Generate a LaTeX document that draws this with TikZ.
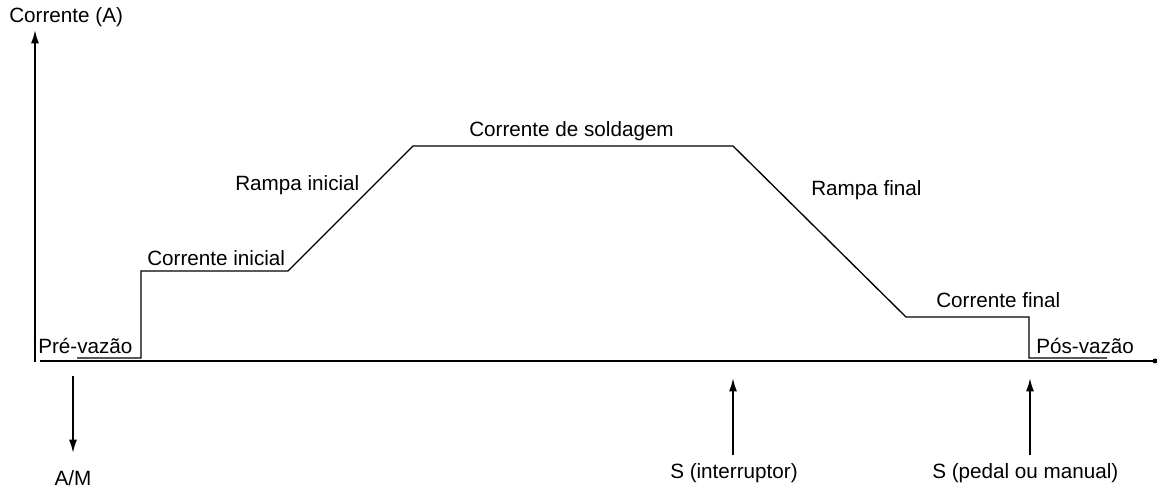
\documentclass[tikz,border=0pt]{standalone}
\usepackage{fontspec}
\setmainfont{Liberation Sans}
\usetikzlibrary{arrows.meta}
\begin{document}
\begin{tikzpicture}[x=0.75pt,y=-0.75pt,
  lbl/.style={inner sep=0pt,font=\fontsize{15.5}{18}\selectfont},
  curve/.style={line width=1pt},
  axis/.style={line width=1.4pt},
  sig/.style={line width=1.4pt,-{Latex[length=10pt,width=6pt]}}]
\useasboundingbox (0,0) rectangle (1157,495);
% axes
\coordinate (o) at (35,362);
\coordinate (ytop) at (35,30);
\coordinate (xs) at (40,361);
\coordinate (xe) at (1155,361);
\draw[axis,-{Latex[length=10pt,width=6pt]}] (o) -- (ytop);
\draw[axis] (xs) -- (xe);
\fill (xe) circle (2.5);
% current profile
\coordinate (p0) at (77,358);
\coordinate (p1) at (141,358);
\coordinate (p2) at (141,271);
\coordinate (p3) at (288,271);
\coordinate (p4) at (413,146);
\coordinate (p5) at (733,146);
\coordinate (p6) at (906,317);
\coordinate (p7) at (1029,317);
\coordinate (p8) at (1029,358);
\coordinate (p9) at (1107,358);
\draw[curve] (p0) -- (p1) -- (p2) -- (p3) -- (p4) -- (p5) -- (p6) -- (p7) -- (p8) -- (p9);
% labels
\node[lbl,anchor=west] (ya) at (9,17) {Corrente (A)};
\node[lbl,anchor=west] (pre) at (38,346) {Pré-vazão};
\node[lbl,anchor=west] (ci) at (147,258) {Corrente inicial};
\node[lbl,anchor=west] (ri) at (235,185) {Rampa inicial};
\node[lbl,anchor=west] (cs) at (469,131) {Corrente de soldagem};
\node[lbl,anchor=west] (rf) at (811,190) {Rampa final};
\node[lbl,anchor=west] (cf) at (936,300) {Corrente final};
\node[lbl,anchor=west] (pos) at (1036,346) {Pós-vazão};
% signals
\node[lbl] (am) at (73,478) {A/M};
\node[lbl,anchor=east] (si) at (798,473) {S (interruptor)};
\node[lbl,anchor=west] (sp) at (932,473) {S (pedal ou manual)};
\coordinate (amtop) at (73,376);
\coordinate (ambot) at (73,453);
\coordinate (sibot) at (733,455);
\coordinate (sitop) at (733,378);
\coordinate (spbot) at (1030,455);
\coordinate (sptop) at (1030,378);
\draw[sig] (amtop) -- (ambot);
\draw[sig] (sibot) -- (sitop);
\draw[sig] (spbot) -- (sptop);
\end{tikzpicture}
\end{document}
